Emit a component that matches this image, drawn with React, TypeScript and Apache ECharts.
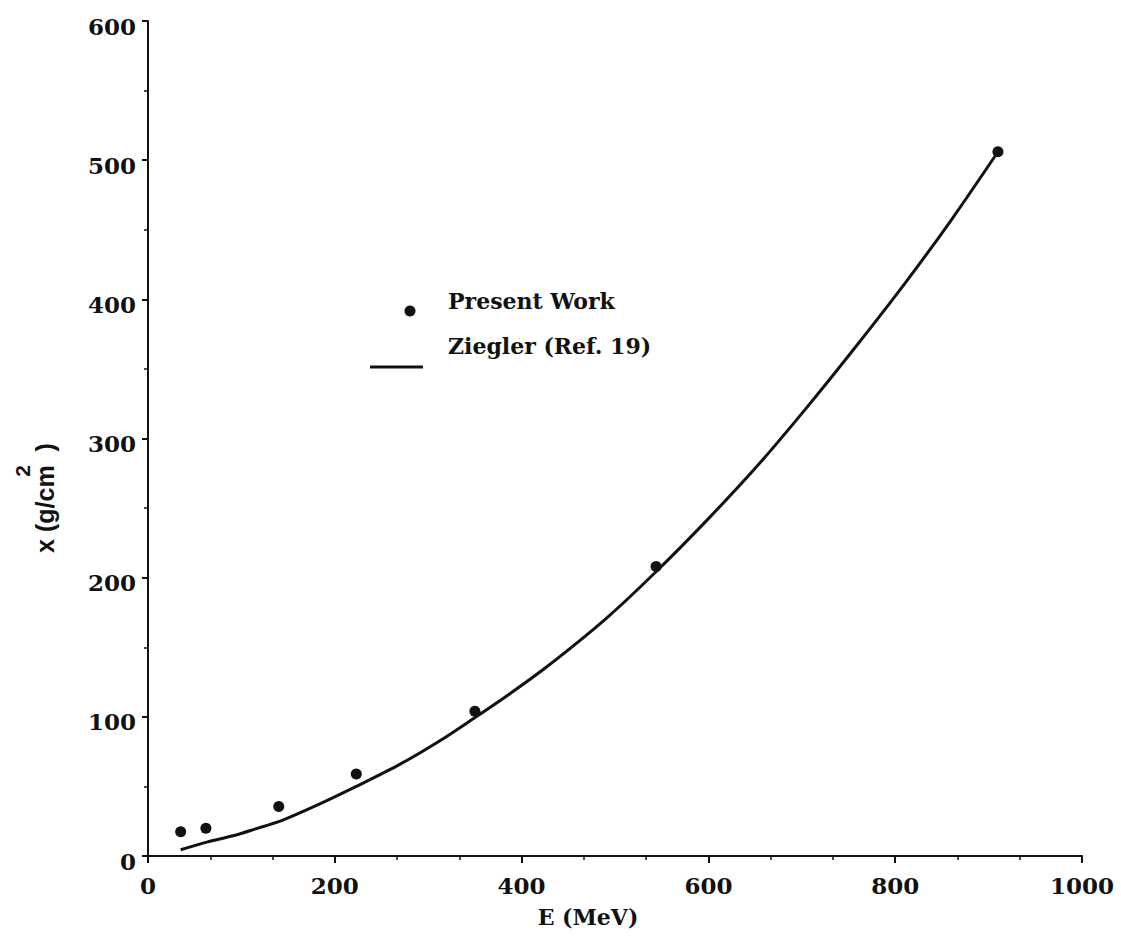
import React, { useEffect, useRef } from 'react';
import * as echarts from 'echarts';

// Present Work measurements: E (MeV) vs x (g/cm^2)
const presentE = [35, 62, 140, 223, 350, 544, 910];
const presentX = [17.5, 20, 35.5, 59, 104, 208, 506];

// Ziegler (Ref. 19) curve
const zieglerE = [35, 63, 91, 113, 145, 181, 223, 270, 313, 349, 384, 427, 491, 545, 598, 652, 705, 759, 811, 860, 907];
const zieglerX = [4.5, 10, 14.5, 19, 26, 36.5, 50, 66, 83, 99, 115, 136, 171, 205, 241, 280, 322, 367, 412, 457, 503];

const xName = 'E (MeV)';
const yName = 'x (g/cm  )';
const yNameSup = '2';
const presentName = 'Present Work';
const zieglerName = 'Ziegler (Ref. 19)';

const SERIF = "'DejaVu Serif', serif";
const SANS = "'Liberation Sans', Arial, sans-serif";
const INK = '#111';

export default function App() {
  const ref = useRef<HTMLDivElement>(null);

  useEffect(() => {
    if (!ref.current) return;
    const chart = echarts.init(ref.current, null, { renderer: 'svg' });
    const present = presentE.map((e, i) => [e, presentX[i]]);
    const ziegler = zieglerE.map((e, i) => [e, zieglerX[i]]);

    const legendRich = (spacer: number) => ({
      a: { fontFamily: SERIF, fontWeight: 'bold', fontSize: 22, color: INK, lineHeight: 24 },
      b: { fontSize: 1, lineHeight: spacer, color: 'rgba(0,0,0,0)' },
    });

    chart.setOption({
      animation: false,
      backgroundColor: '#fff',
      grid: { left: 148, top: 21, right: 39, bottom: 82, containLabel: false },
      xAxis: {
        type: 'value',
        min: 0,
        max: 1000,
        interval: 200,
        name: xName,
        nameLocation: 'middle',
        nameGap: 50,
        nameTextStyle: {
          fontFamily: SERIF,
          fontWeight: 'bold',
          fontSize: 22,
          color: INK,
          padding: [0, 54, 0, 0],
        },
        axisLine: { show: true, onZero: false, lineStyle: { color: INK, width: 2 } },
        axisTick: { show: true, length: 7, lineStyle: { color: INK, width: 2 } },
        minorTick: { show: true, splitNumber: 3, length: 4, lineStyle: { color: INK, width: 1.5 } },
        splitLine: { show: false },
        axisLabel: {
          margin: 18,
          fontFamily: SERIF,
          fontWeight: 'bold',
          fontSize: 23,
          color: INK,
          formatter: (v: number) => String(v),
        },
      },
      yAxis: {
        type: 'value',
        min: 0,
        max: 600,
        interval: 100,
        axisLine: { show: true, onZero: false, lineStyle: { color: INK, width: 2 } },
        axisTick: { show: true, length: 6, lineStyle: { color: INK, width: 2 } },
        minorTick: { show: true, splitNumber: 2, length: 4, lineStyle: { color: INK, width: 1.5 } },
        splitLine: { show: false },
        axisLabel: {
          margin: 12,
          fontFamily: SERIF,
          fontWeight: 'bold',
          fontSize: 23,
          color: INK,
          verticalAlign: 'top',
          lineHeight: 10,
          formatter: (v: number) => String(v),
        },
      },
      legend: [
        {
          data: [{ name: presentName, icon: 'circle' }],
          left: 404.5,
          top: 290,
          padding: 0,
          itemWidth: 11,
          itemHeight: 11,
          selectedMode: false,
          formatter: (n: string) => `{a|${n}}\n{b| }`,
          textStyle: {
            color: INK,
            padding: [0, 0, 0, 27.5],
            rich: legendRich(20),
          },
        },
        {
          data: [{ name: zieglerName, icon: 'rect' }],
          left: 370,
          top: 335,
          padding: 0,
          itemWidth: 53,
          itemHeight: 3,
          selectedMode: false,
          formatter: (n: string) => `{a|${n}}\n{b| }`,
          textStyle: {
            color: INK,
            padding: [0, 0, 0, 20],
            rich: legendRich(42),
          },
        },
      ],
      graphic: [
        {
          type: 'text',
          x: 45,
          y: 498,
          rotation: Math.PI / 2,
          style: {
            text: yName,
            font: `bold 25px ${SANS}`,
            fill: INK,
            align: 'center',
            verticalAlign: 'middle',
          },
        },
        {
          type: 'text',
          x: 22,
          y: 471,
          rotation: Math.PI / 2,
          style: {
            text: yNameSup,
            font: `bold 21px ${SANS}`,
            fill: INK,
            align: 'center',
            verticalAlign: 'middle',
          },
        },
      ],
      series: [
        {
          name: zieglerName,
          type: 'line',
          data: ziegler,
          symbol: 'none',
          smooth: 0.3,
          lineStyle: { color: INK, width: 3 },
          itemStyle: { color: INK },
          z: 2,
        },
        {
          name: presentName,
          type: 'scatter',
          data: present,
          symbol: 'circle',
          symbolSize: 11,
          itemStyle: { color: INK, opacity: 1 },
          z: 3,
        },
      ],
    });

    return () => chart.dispose();
  }, []);

  return (
    <div
      ref={ref}
      style={{ position: 'absolute', left: 0, top: 0, width: 1121, height: 938, background: '#fff' }}
    />
  );
}
